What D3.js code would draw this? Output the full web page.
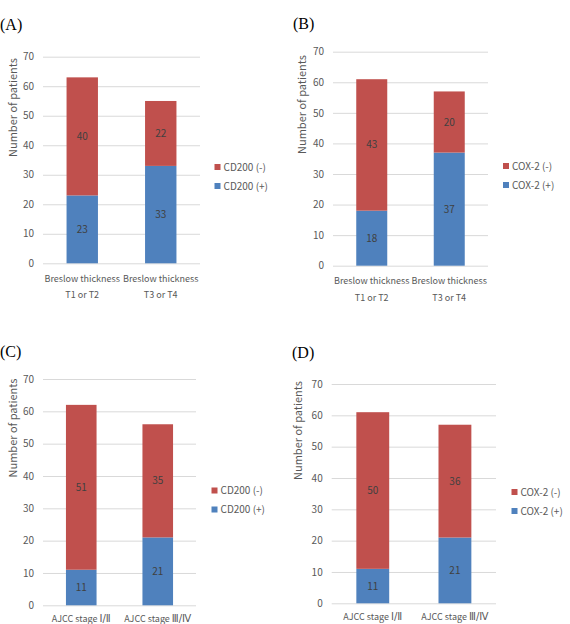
<!DOCTYPE html>
<html><head><meta charset="utf-8">
<script src="https://cdn.jsdelivr.net/npm/d3@7"></script>
<style>body{margin:0;background:#fff}svg{display:block}</style>
</head><body>
<svg id="chart" width="570" height="624"></svg>
<script>
// ---- data ----
const panelLetters = ["(A)", "(B)", "(C)", "(D)"];
const catsBreslow = [["Breslow thickness", "T1 or T2"], ["Breslow thickness", "T3 or T4"]];
const catsAJCC = [["AJCC stage Ⅰ/Ⅱ"], ["AJCC stage Ⅲ/Ⅳ"]];
const seriesCD200 = ["CD200 (-)", "CD200 (+)"];
const seriesCOX2 = ["COX-2 (-)", "COX-2 (+)"];
const posA = [23, 33], negA = [40, 22];
const posB = [18, 37], negB = [43, 20];
const posC = [11, 21], negC = [51, 35];
const posD = [11, 21], negD = [50, 36];
const yTicks = [0, 10, 20, 30, 40, 50, 60, 70];
const yMax = 70;
const yTitle = "Number of patients";

// ---- layout ----
const panels = [
  {letter: panelLetters[0], cats: catsBreslow, series: seriesCD200, pos: posA, neg: negA,
   lx: 0, ly: 30, x0: 43, x1: 200, yTop: 56.7, yBot: 263.3, tx: 13, tyc: 107.5,
   legX: 217, legY: 167, xlY: 281.5},
  {letter: panelLetters[1], cats: catsBreslow, series: seriesCOX2, pos: posB, neg: negB,
   lx: 293, ly: 29, x0: 333, x1: 488, yTop: 51.7, yBot: 265.7, tx: 302, tyc: 104.5,
   legX: 505.5, legY: 166, xlY: 284},
  {letter: panelLetters[2], cats: catsAJCC, series: seriesCD200, pos: posC, neg: negC,
   lx: 0, ly: 357, x0: 43, x1: 196, yTop: 379, yBot: 605.3, tx: 13, tyc: 428,
   legX: 214, legY: 490.5, xlY: 622},
  {letter: panelLetters[3], cats: catsAJCC, series: seriesCOX2, pos: posD, neg: negD,
   lx: 292, ly: 358, x0: 331.7, x1: 496, yTop: 384, yBot: 603.3, tx: 297.5, tyc: 430.5,
   legX: 514, legY: 492, xlY: 620}
];

const RED = "#C0504D", BLUE = "#4F81BD";
const FONT = "'Noto Sans CJK KR', 'Noto Sans', sans-serif";
const svg = d3.select("#chart");

function richLabel(sel, str) {
  // roman numerals drawn with a compact font
  const parts = str.split(/([Ⅰ-Ⅻ\/]+)/).filter(s => s.length);
  parts.forEach(s => {
    const t = sel.append("tspan").text(s);
    if (/[Ⅰ-Ⅻ]/.test(s)) t.attr("font-family", "'DejaVu Sans', sans-serif").attr("font-size", 10);
  });
}

panels.forEach(p => {
  const g = svg.append("g");
  g.append("text").attr("x", p.lx).attr("y", p.ly)
    .attr("font-family", "'Liberation Serif', serif").attr("font-size", 16).attr("fill", "#000")
    .text(p.letter);

  const y = d3.scaleLinear().domain([0, yMax]).range([p.yBot, p.yTop]);
  const keys = p.cats.map(c => c.join(" "));
  const x = d3.scaleBand().domain(keys).range([p.x0, p.x1]).paddingInner(0.6).paddingOuter(0.3);

  // gridlines + axis
  const ax = d3.axisLeft(y).tickValues(yTicks).tickSize(-(p.x1 - p.x0)).tickPadding(9);
  const axG = g.append("g").attr("transform", `translate(${p.x0},0)`).call(ax);
  axG.select(".domain").remove();
  axG.selectAll(".tick line").attr("stroke", "#D9D9D9").attr("stroke-width", 1);
  axG.selectAll(".tick text").attr("fill", "#595959").attr("font-family", FONT).attr("font-size", 10);

  // stacked bars
  const rows = keys.map((k, i) => ({key: k, pos: p.pos[i], neg: p.neg[i]}));
  const stack = d3.stack().keys(["pos", "neg"])(rows);
  const colors = {pos: BLUE, neg: RED};
  stack.forEach(layer => {
    g.append("g").selectAll("rect").data(layer).join("rect")
      .attr("x", d => x(d.data.key)).attr("width", x.bandwidth())
      .attr("y", d => y(d[1])).attr("height", d => y(d[0]) - y(d[1]))
      .attr("fill", colors[layer.key]);
    g.append("g").selectAll("text").data(layer).join("text")
      .attr("x", d => x(d.data.key) + x.bandwidth() / 2)
      .attr("y", d => (y(d[0]) + y(d[1])) / 2 + 3.5)
      .attr("text-anchor", "middle").attr("font-family", FONT).attr("font-size", 10)
      .attr("fill", "#404040")
      .text(d => d[1] - d[0]);
  });

  // x labels
  p.cats.forEach((c, i) => {
    const cx = x(keys[i]) + x.bandwidth() / 2;
    c.forEach((line, j) => {
      const t = g.append("text").attr("x", cx).attr("y", p.xlY + j * 16.5)
        .attr("text-anchor", "middle").attr("font-family", FONT).attr("font-size", 9)
        .attr("fill", "#595959");
      richLabel(t, line);
    });
  });

  // y title
  g.append("text").attr("transform", `translate(${p.tx + 4},${p.tyc}) rotate(-90)`)
    .attr("text-anchor", "middle").attr("font-family", FONT).attr("font-size", 11)
    .attr("fill", "#595959").text(yTitle);

  // legend
  const legColors = [RED, BLUE];
  p.series.forEach((s, i) => {
    const ly = p.legY + i * 19;
    g.append("rect").attr("x", p.legX - 2.5).attr("y", ly - 3).attr("width", 6).attr("height", 6)
      .attr("fill", legColors[i]);
    g.append("text").attr("x", p.legX + 6.5).attr("y", ly + 3.5)
      .attr("font-family", FONT).attr("font-size", 10).attr("fill", "#595959").text(s);
  });
});
</script>
</body></html>
